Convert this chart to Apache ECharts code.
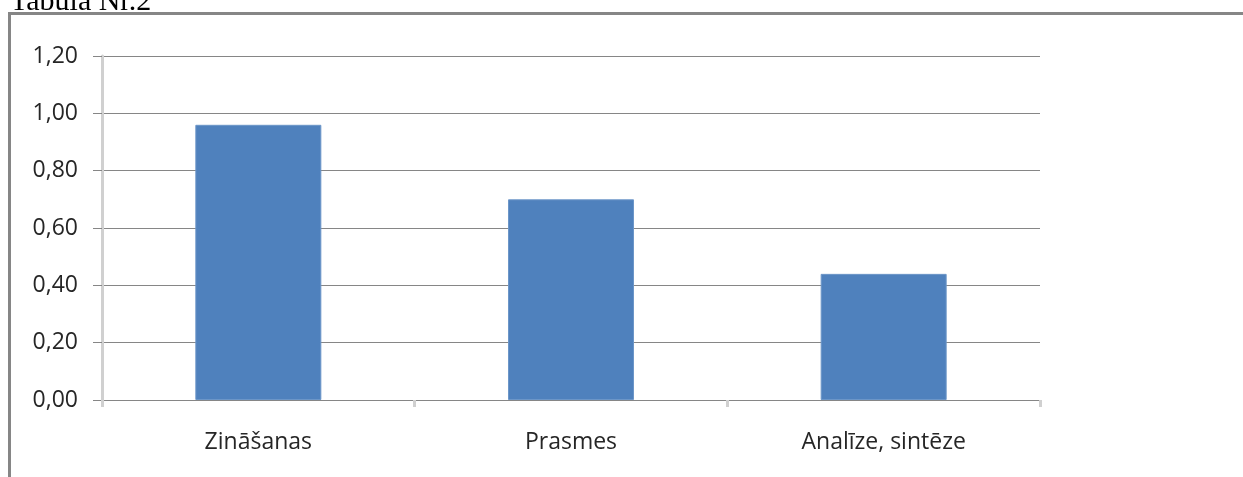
<!DOCTYPE html>
<html>
<head>
<meta charset="utf-8">
<script src="https://cdn.jsdelivr.net/npm/echarts@6/dist/echarts.min.js"></script>
<style>
html,body{margin:0;padding:0;background:#fff;}
#chart{width:1243px;height:477px;}
</style>
</head>
<body>
<div id="chart"></div>
<script>
const categories = ['Zināšanas', 'Prasmes', 'Analīze, sintēze'];
const values = [0.96, 0.70, 0.44];
const yTicks = { min: 0, max: 1.2, interval: 0.2 };
const titleText = 'Tabula Nr.2';

const chart = echarts.init(document.getElementById('chart'), null, { renderer: 'canvas' });
const labelFont = '"Open Sans"';
chart.setOption({
  backgroundColor: '#ffffff',
  animation: false,
  graphic: [
    { type: 'rect', shape: { x: 9.5, y: 13.5, width: 1400, height: 600 },
      style: { fill: 'none', stroke: '#868686', lineWidth: 3 }, silent: true },
    { type: 'text', left: 10, top: -13,
      style: { text: titleText, font: '30px "Liberation Serif"', fill: '#000' } }
  ],
  grid: { left: 102, right: 203, top: 56, bottom: 77, containLabel: false },
  xAxis: {
    type: 'category',
    data: categories,
    axisLine: { show: true, lineStyle: { color: '#868686', width: 1 } },
    axisTick: { show: true, alignWithLabel: false, length: 7, lineStyle: { color: '#d0d0d0', width: 3 } },
    axisLabel: { margin: 31, fontSize: 23, fontFamily: labelFont, color: '#262626' },
    splitLine: { show: false }
  },
  yAxis: {
    type: 'value',
    min: yTicks.min, max: yTicks.max, interval: yTicks.interval,
    axisLine: { show: true, lineStyle: { color: '#d0d0d0', width: 3 } },
    axisTick: { show: true, length: 9, lineStyle: { color: '#868686', width: 1 } },
    axisLabel: { margin: 24, fontSize: 23, fontFamily: labelFont, color: '#262626',
      formatter: v => v.toFixed(2).replace('.', ',') },
    splitLine: { show: true, lineStyle: { color: '#868686', width: 1 } }
  },
  series: [{
    type: 'bar',
    data: values,
    barWidth: 126,
    itemStyle: { color: '#4f81bd', borderColor: '#6c96c8', borderWidth: 1 },
    z: 3
  }]
});
</script>
</body>
</html>
